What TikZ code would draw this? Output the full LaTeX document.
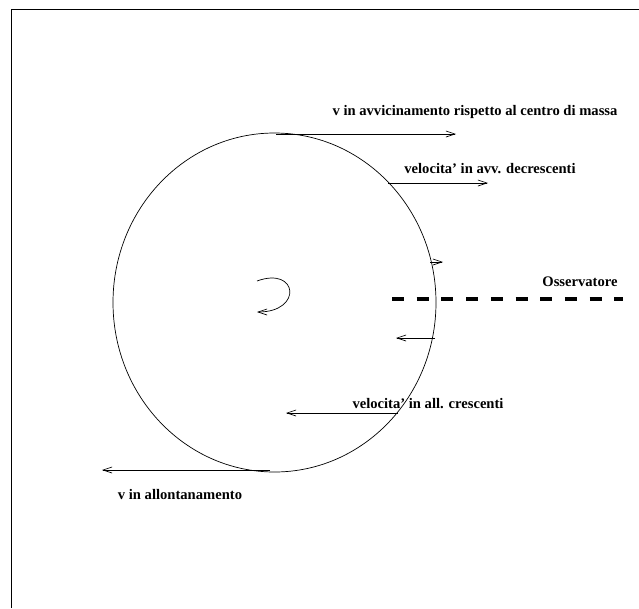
\documentclass[tikz,border=0pt]{standalone}
\usepackage{fontspec}
\setmainfont{Liberation Serif}
\usepackage{tikz}
\usetikzlibrary{arrows.meta,shapes.geometric}

\begin{document}
\begin{tikzpicture}[x=1pt,y=-1pt]
        \tikzstyle{every node}=[font=\bfseries\fontsize{14.6}{17}\selectfont, inner sep=0pt]
        \tikzstyle{vel}=[-{Straight Barb[length=9pt,width=6pt]}, line width=0.7pt]

        \useasboundingbox (0,0) rectangle (639,608);
        \draw[line width=1pt] (11,608) -- (11,9) -- (639,9);

        % disco
        \node (disk) [draw, ellipse, line width=0.7pt, minimum width=323pt, minimum height=339pt] at (274.5,302.5) {};

        \coordinate (a) at (276,134);
        \coordinate (b) at (388,183);
        \coordinate (c) at (430,262);
        \coordinate (d) at (435,338);
        \coordinate (e) at (398,413);
        \coordinate (f) at (270,470);
        \coordinate (a1) at (456,134);
        \coordinate (b1) at (488,183);
        \coordinate (c1) at (443,262);
        \coordinate (d1) at (396,338);
        \coordinate (e1) at (286,413);
        \coordinate (f1) at (102,470);

        \node (ta) at (475,112) {v in avvicinamento rispetto al centro di massa};
        \node (tb) at (490,169) {velocita' in avv. decrescenti};
        \node (to) at (580,282) {Osservatore};
        \node (te) at (428,404) {velocita' in all. crescenti};
        \node (tf) at (180,494) {v in allontanamento};

        \draw[vel] (a) -- (a1);
        \draw[vel] (b) -- (b1);
        \draw[vel] (c) -- (c1);
        \draw[vel] (d) -- (d1);
        \draw[vel] (e) -- (e1);
        \draw[vel] (f) -- (f1);

        % rotazione
        \coordinate (r0) at (257,281);
        \coordinate (r1) at (257,312);
        \draw[vel] (r0) .. controls (298,266) and (303,312) .. (r1);

        % osservatore
        \coordinate (o0) at (392,299);
        \coordinate (o1) at (623,299);
        \draw[line width=4pt, dash pattern=on 12pt off 12.7pt] (o0) -- (o1);
    \end{tikzpicture}
\end{document}
